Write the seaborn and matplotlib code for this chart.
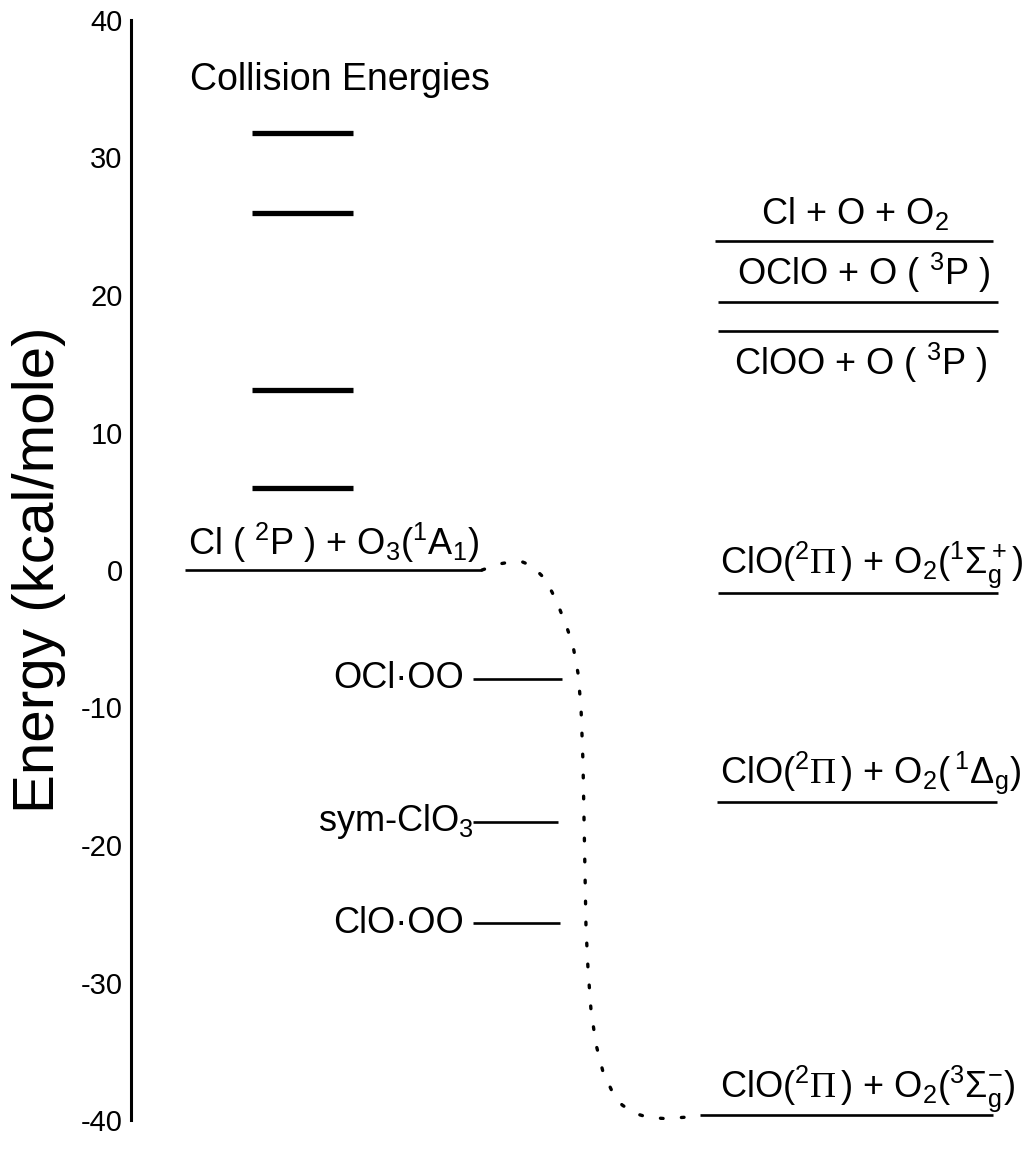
"""
Energy level diagram for Cl + O3 -> ClO + O2, with collision energies.
"""
import matplotlib
matplotlib.use("Agg")
import matplotlib.pyplot as plt
import seaborn as sns
import pandas as pd

sns.set_theme(style="white")
plt.rcParams["font.family"] = ["Liberation Sans", "DejaVu Sans"]
plt.rcParams["mathtext.fontset"] = "custom"
plt.rcParams["mathtext.rm"] = "Liberation Sans"
plt.rcParams["mathtext.it"] = "Liberation Sans:italic"
plt.rcParams["mathtext.tt"] = "Liberation Serif"
plt.rcParams["axes.unicode_minus"] = False
plt.rcParams["text.color"] = "black"
plt.rcParams["axes.labelcolor"] = "black"

# --- data (kcal/mole) ---
collision_energies = [31.8, 26.0, 13.1, 6.0]

reactant_label = r"Cl ( $^2$P ) + O$_3$($^1$A$_1$)"
reactant_energy = 0.0

complex_labels = ["OCl·OO", r"sym-ClO$_3$", "ClO·OO"]
complex_energies = [-7.9, -18.3, -25.7]

upper_labels = ["Cl + O + O$_2$", "OClO + O ( $^3$P )", "ClOO + O ( $^3$P )"]
upper_energies = [23.9, 19.5, 17.4]

product_labels = [
    r"ClO($^2\mathtt{\Pi}\,$) + O$_2$($^1\Sigma^+_\mathrm{g}$)",
    r"ClO($^2\mathtt{\Pi}\,$) + O$_2$($\,^1\Delta_\mathrm{g}$)",
    r"ClO($^2\mathtt{\Pi}\,$) + O$_2$($^3\Sigma^{-}_\mathrm{g}$)",
]
product_energies = [-1.7, -16.9, -39.6]

# reaction path (dotted), x in diagram units
path_x = [482, 490, 500, 512, 522, 532, 543, 552, 560, 567, 573, 578, 581, 583,
          584, 585, 586, 588, 591, 596, 603, 612, 622, 634, 648, 665, 685, 700]
path_y = [0.0, 0.2, 0.45, 0.6, 0.6, 0.3, -0.5, -1.6, -2.9, -4.2, -5.5, -7.5, -10,
          -14, -18, -22, -26, -29, -32, -34.5, -36.5, -37.9, -38.9, -39.5, -39.8,
          -39.9, -39.8, -39.6]

yticks = [-40, -30, -20, -10, 0, 10, 20, 30, 40]

# --- figure ---
W, H = 1027, 1149
fig = plt.figure(figsize=(W / 100, H / 100), dpi=100)
ax = fig.add_axes([131 / W, 29 / H, (W - 131) / W, 1100 / H])
ax.set_xlim(131, W)
ax.set_ylim(-40, 40)

for s in ["top", "right", "bottom"]:
    ax.spines[s].set_visible(False)
ax.spines["left"].set_linewidth(2.2)
ax.spines["left"].set_color("black")
ax.set_xticks([])
ax.set_yticks(yticks)
ax.tick_params(axis="y", direction="in", length=26, width=1.5, pad=6,
               labelsize=21, colors="black")
ax.set_ylabel("Energy (kcal/mole)", fontsize=42)
ax.yaxis.set_label_coords(-0.072, 0.5)

lw = 1.9
# collision energies
ax.text(190, 35.6, "Collision Energies", fontsize=27, va="center", ha="left")
ax.hlines(collision_energies, 252, 353, color="black", lw=3.8)

# reactants
ax.hlines(reactant_energy, 185, 482, color="black", lw=lw)
ax.text(188, reactant_energy + 1.1, reactant_label, fontsize=26, ha="left", va="baseline")

# intermediates
ax.hlines(complex_energies, [473, 473, 473], [562, 558, 560], color="black", lw=lw)
for lab, e, xr in zip(complex_labels, complex_energies, [464, 474, 464]):
    ax.text(xr, e, lab, fontsize=26, ha="right", va="center")

# upper asymptotes
ax.hlines(upper_energies, [715, 718, 718], [993, 998, 998], color="black", lw=lw)
upper_text_y = [25.2, 20.7, 14.2]
for lab, ty, xc in zip(upper_labels, upper_text_y, [855, 864, 861]):
    ax.text(xc, ty, lab, fontsize=26, ha="center", va="baseline")

# products
ax.hlines(product_energies, [718, 717, 700], [998, 997, 993], color="black", lw=lw)
product_text_y = [-0.2, -15.5, -38.3]
for lab, ty in zip(product_labels, product_text_y):
    ax.text(720, ty, lab, fontsize=26, ha="left", va="baseline")

# reaction path
path = pd.DataFrame({"x": path_x, "y": path_y})
sns.lineplot(data=path, x="x", y="y", ax=ax, sort=False, estimator=None,
             color="black", lw=2.4, linestyle=(0, (0.8, 5.5)),
             dash_capstyle="round")
ax.set_xlabel("")

fig.savefig("out.png", dpi=100)
